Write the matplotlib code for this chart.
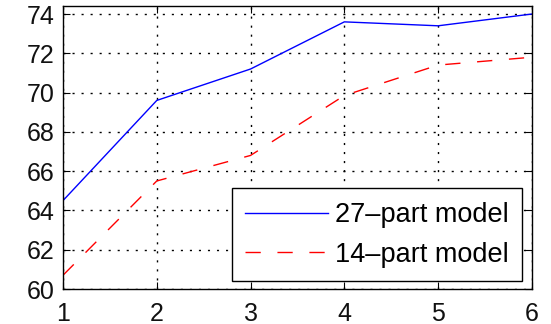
import matplotlib
matplotlib.use("Agg")
import matplotlib.pyplot as plt

# values
x = [1, 2, 3, 4, 5, 6]
part27 = [64.5, 69.6, 71.2, 73.6, 73.4, 74.0]
part14 = [60.7, 65.5, 66.8, 69.85, 71.4, 71.8]
yticks = [60, 62, 64, 66, 68, 70, 72, 74]

plt.rcParams["font.family"] = ["Liberation Sans", "DejaVu Sans"]

fig = plt.figure(figsize=(5.51, 3.24), dpi=100)
ax = fig.add_axes([0.1143, 0.108, 0.851, 0.873])

ax.plot(x, part27, color="#0000ff", lw=1.0, label="27–part model")
ax.plot(x, part14, color="#ff0000", lw=1.0, dashes=(11, 12), label="14–part model")

ax.set_xlim(1, 6)
ax.set_ylim(60, 74.4)
ax.set_xticks(x)
ax.set_yticks(yticks)
ax.grid(True, color="black", linestyle=(0, (1.5, 5)), linewidth=1.0)
ax.tick_params(direction="in", top=True, right=True, length=5, width=0.8,
               labelsize=18, colors="black", labelcolor="#111111")
ax.tick_params(axis="y", pad=6)
ax.tick_params(axis="x", pad=9)
for s in ax.spines.values():
    s.set_linewidth(1.0)

leg = ax.legend(loc="lower right", bbox_to_anchor=(0.979, 0.028), fontsize=19.5,
                handlelength=3.05, handletextpad=0.25, fancybox=False, framealpha=1,
                edgecolor="black", borderpad=0.5, labelspacing=0.5,
                borderaxespad=0)
leg.get_frame().set_linewidth(1.0)

fig.savefig("out.png", dpi=100)
